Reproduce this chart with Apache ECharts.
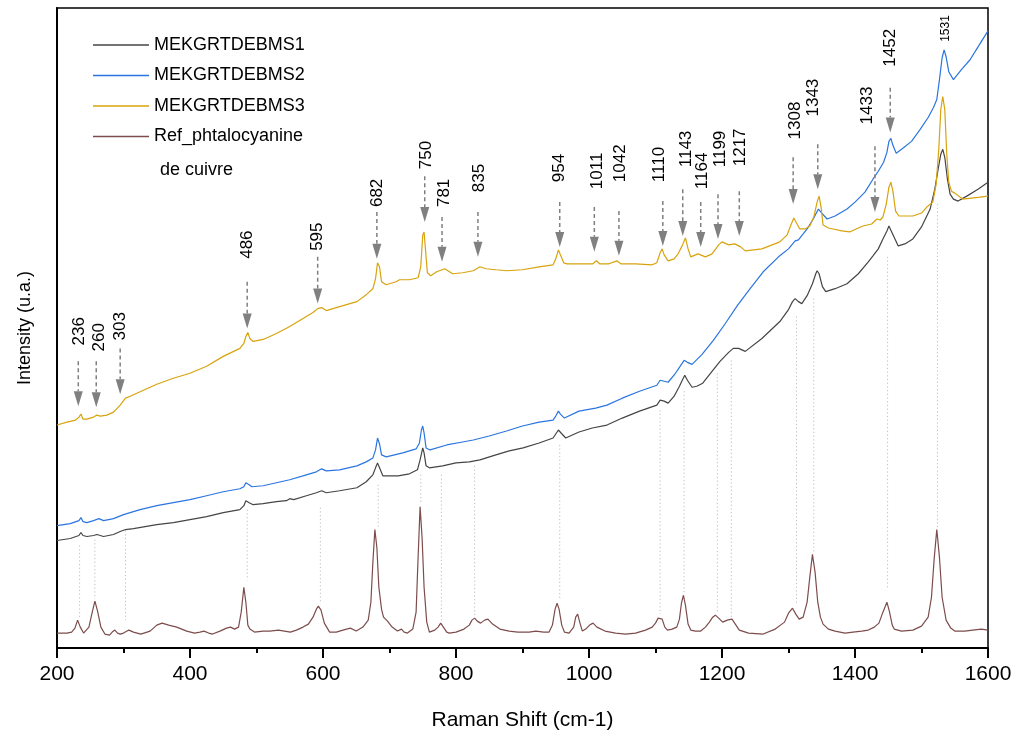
<!DOCTYPE html>
<html>
<head>
<meta charset="utf-8">
<script src="https://cdn.jsdelivr.net/npm/echarts@6/dist/echarts.min.js"></script>
<style>html,body{margin:0;padding:0;background:#fff}#c{width:1018px;height:736px}</style>
</head>
<body>
<div id="c"></div>
<script>
// Raman shift (cm-1) vs intensity (arbitrary units)
const ms1 = [[200,108],[220,110],[233,113],[236,116],[239,113],[245,112],[255,113],[260,114],[270,112],[285,114],[295,117],[303,119],[315,120],[350,124],[375,126],[400,129],[425,132],[450,136],[475,139],[481,143],[484,148],[486,150],[489,146],[495,144],[510,145],[530,147],[545,148],[550,150],[553,152],[556,149],[575,153],[590,156],[598,158],[605,156],[625,158],[651,161],[665,167],[675,174],[679,181],[682,186],[685,181],[690,173],[702,173],[713,173],[730,175],[742,179],[746,189],[750,201],[752,196],[755,183],[760,181],[780,183],[800,186],[820,187],[836,189],[860,194],[880,198],[901,201],[925,206],[946,211],[950,215],[954,219],[958,216],[965,211],[985,217],[1005,221],[1027,224],[1050,231],[1076,238],[1102,244],[1107,249],[1110,251],[1113,248],[1119,246],[1128,253],[1136,263],[1141,270],[1144,274],[1148,269],[1155,262],[1162,263],[1171,266],[1185,278],[1197,288],[1210,297],[1217,301],[1225,301],[1235,298],[1260,311],[1287,328],[1300,340],[1306,348],[1310,351],[1315,348],[1320,346],[1328,354],[1336,366],[1341,376],[1343,379],[1346,376],[1351,363],[1356,358],[1370,361],[1388,366],[1405,376],[1420,388],[1427,394],[1435,401],[1442,411],[1448,419],[1451,424],[1454,423],[1458,414],[1465,404],[1475,406],[1487,411],[1500,423],[1513,441],[1520,461],[1525,481],[1529,496],[1532,501],[1535,493],[1539,471],[1543,456],[1548,451],[1555,449],[1568,454],[1585,461],[1600,468]];

const ms2 = [[200,123],[220,125],[233,128],[236,131],[239,127],[245,126],[255,128],[263,130],[270,128],[285,130],[300,134],[325,139],[350,143],[375,146],[400,149],[425,153],[450,157],[475,160],[481,162],[484,166],[486,168],[489,164],[493,162],[510,163],[530,166],[550,169],[575,174],[590,177],[598,180],[605,178],[625,179],[651,183],[665,187],[675,191],[679,199],[682,211],[685,205],[688,194],[695,192],[720,196],[740,200],[745,206],[748,219],[750,223],[752,216],[755,201],[761,199],[786,204],[810,207],[826,209],[850,213],[876,218],[900,223],[925,227],[946,229],[950,233],[954,238],[957,235],[963,231],[985,238],[1010,241],[1027,244],[1050,251],[1076,258],[1102,264],[1107,269],[1110,271],[1113,268],[1119,267],[1130,276],[1138,284],[1143,289],[1148,287],[1155,285],[1170,295],[1187,309],[1205,326],[1223,344],[1240,359],[1262,378],[1285,393],[1300,401],[1310,409],[1315,410],[1328,421],[1338,432],[1345,441],[1350,437],[1358,431],[1370,434],[1388,441],[1400,448],[1415,458],[1427,471],[1435,479],[1443,488],[1448,498],[1451,509],[1454,512],[1457,505],[1462,497],[1470,501],[1485,509],[1498,521],[1510,533],[1518,543],[1523,551],[1527,571],[1531,593],[1534,601],[1537,594],[1541,579],[1548,571],[1560,581],[1573,591],[1585,604],[1600,620]];

const ms3 = [[200,224],[215,227],[228,229],[233,232],[236,235],[239,230],[245,230],[255,232],[260,234],[265,233],[275,234],[285,237],[295,244],[303,251],[310,253],[330,259],[350,265],[375,271],[400,276],[425,283],[450,293],[475,301],[481,306],[484,313],[487,317],[490,311],[495,308],[510,310],[530,316],[550,323],[570,331],[585,337],[592,341],[598,342],[605,339],[625,343],[651,348],[665,355],[675,361],[679,371],[682,387],[685,383],[688,368],[695,365],[710,368],[715,370],[730,370],[743,372],[747,383],[750,415],[752,418],[754,401],[757,377],[762,374],[771,378],[783,381],[795,376],[810,377],[826,379],[836,383],[845,381],[860,380],[876,379],[900,380],[925,383],[946,385],[950,391],[954,400],[957,395],[962,387],[967,386],[985,386],[1006,386],[1011,389],[1016,386],[1030,386],[1042,389],[1048,386],[1070,386],[1095,385],[1102,387],[1107,397],[1110,401],[1113,395],[1119,389],[1128,391],[1134,396],[1140,404],[1145,412],[1149,401],[1153,393],[1164,396],[1175,393],[1185,396],[1195,405],[1200,408],[1210,405],[1219,406],[1228,403],[1235,399],[1260,401],[1287,408],[1298,415],[1303,424],[1308,432],[1312,427],[1317,421],[1325,421],[1332,424],[1338,433],[1343,448],[1346,454],[1349,443],[1352,425],[1360,422],[1367,421],[1380,419],[1392,418],[1405,422],[1412,424],[1425,426],[1433,431],[1438,430],[1442,433],[1447,446],[1451,463],[1454,468],[1457,459],[1461,439],[1466,434],[1487,434],[1500,437],[1508,443],[1517,448],[1522,466],[1526,501],[1529,541],[1532,554],[1535,541],[1538,496],[1541,468],[1545,459],[1550,457],[1562,451],[1575,452],[1588,453],[1600,454]];

const refPc = [[200,15],[215,15],[222,16],[227,20],[231,28],[235,21],[240,15],[248,21],[253,36],[257,47],[261,37],[266,21],[272,14],[279,13],[283,16],[287,18],[291,15],[295,14],[300,15],[308,18],[315,16],[326,14],[340,17],[350,23],[358,25],[368,23],[380,21],[395,17],[407,15],[415,16],[421,17],[428,15],[434,14],[445,17],[455,20],[461,21],[467,19],[473,21],[477,36],[481,61],[484,46],[487,23],[490,19],[497,16],[510,17],[520,17],[533,18],[542,17],[551,16],[560,18],[570,21],[578,24],[585,31],[590,39],[593,42],[597,38],[602,25],[610,16],[620,16],[630,18],[641,20],[650,17],[660,21],[668,28],[672,46],[675,86],[678,119],[681,101],[684,61],[688,39],[691,31],[697,27],[704,21],[712,17],[718,19],[722,16],[727,15],[735,19],[740,36],[743,91],[746,142],[749,111],[752,61],[756,26],[760,16],[768,18],[773,21],[777,25],[781,21],[786,16],[790,15],[800,16],[812,19],[820,23],[824,28],[828,30],[832,27],[837,25],[843,28],[848,29],[855,24],[866,19],[880,17],[893,16],[910,16],[920,17],[932,16],[940,16],[945,23],[949,39],[952,45],[955,39],[959,23],[963,16],[970,15],[977,21],[980,31],[983,34],[986,26],[990,17],[995,19],[1001,23],[1006,25],[1012,21],[1024,17],[1040,15],[1055,14],[1070,15],[1085,18],[1095,21],[1100,25],[1104,30],[1107,32],[1110,29],[1114,21],[1118,18],[1125,19],[1132,21],[1136,29],[1139,45],[1142,53],[1145,43],[1149,24],[1153,18],[1160,17],[1168,17],[1175,21],[1181,26],[1186,31],[1190,33],[1195,30],[1201,26],[1208,28],[1215,29],[1220,24],[1226,18],[1240,15],[1262,14],[1280,19],[1290,24],[1294,26],[1300,35],[1306,40],[1311,34],[1316,29],[1322,31],[1328,46],[1332,71],[1336,94],[1340,76],[1344,46],[1348,31],[1352,24],[1360,19],[1370,17],[1385,15],[1397,16],[1410,17],[1420,18],[1429,21],[1436,25],[1442,36],[1448,46],[1452,36],[1456,23],[1459,19],[1470,17],[1487,18],[1500,22],[1510,31],[1515,51],[1519,89],[1523,119],[1527,91],[1531,51],[1537,28],[1544,20],[1550,17],[1565,17],[1577,18],[1590,19],[1600,18]];

const seriesNames = ['MEKGRTDEBMS1', 'MEKGRTDEBMS2', 'MEKGRTDEBMS3', 'Ref_phtalocyanine'];
const xTicks = [200, 400, 600, 800, 1000, 1200, 1400, 1600];

// peak annotations: [label, label x, arrow x, label base y, arrow top y, arrow tip y] (data units)
const peakMarks = [
  ['236', 233, 232, 304, 288, 243],
  ['260', 263, 259, 298, 288, 242],
  ['303', 295, 295, 309, 301, 255],
  ['486', 486, 486, 391, 368, 321],
  ['595', 592, 592, 399, 393, 346],
  ['682', 681, 681, 443, 438, 391],
  ['750', 756, 753, 481, 474, 428],
  ['781', 783, 779, 443, 433, 388],
  ['835', 835, 833, 458, 438, 393],
  ['954', 956, 956, 468, 448, 403],
  ['1011', 1012, 1008, 461, 443, 398],
  ['1042', 1047, 1045, 468, 439, 394],
  ['1110', 1105, 1111, 468, 449, 404],
  ['1143', 1146, 1141, 483, 461, 414],
  ['1164', 1171, 1168, 461, 448, 403],
  ['1199', 1198, 1194, 483, 456, 411],
  ['1217', 1227, 1226, 484, 459, 414],
  ['1308', 1310, 1307, 511, 493, 446],
  ['1343', 1337, 1344, 534, 506, 461],
  ['1433', 1418, 1430, 526, 504, 438],
  ['1452', 1453, 1453, 584, 563, 518],
  ['1531', 1537, null, 609, null, null]
];
// vertical dotted guide lines: [x, top y, bottom y]
const guideLines = [[234,103,31],[257,109,49],[303,118,28],[486,139,68],[596,141,44],[683,164,121],[747,174,146],[778,174,28],[828,183,33],[956,204,48],[1107,239,34],[1143,258,54],[1193,276,36],[1214,289,31],[1312,333,43],[1338,351,96],[1449,393,59],[1524,446,121]];

const FONT = '"Liberation Sans", Arial, Helvetica, sans-serif';
const colors = ['#454545', '#2a75e0', '#d8a30c', '#7d4c4c'];

const chart = echarts.init(document.getElementById('c'), null, {renderer: 'canvas'});

function lineSeries(name, data, color) {
  return {
    name: name, type: 'line', data: data, showSymbol: false, symbol: 'none',
    lineStyle: {color: color, width: 1.2}, itemStyle: {color: color},
    animation: false, silent: true, z: 3
  };
}

const option = {
  backgroundColor: '#fff',
  animation: false,
  grid: {left: 57, right: 30, top: 8, bottom: 85, show: true, borderColor: '#000', borderWidth: 1.5, backgroundColor: 'transparent'},
  legend: {
    orient: 'vertical', left: 88, top: 31, itemWidth: 56, itemHeight: 1.5, itemGap: 12.5,
    icon: 'rect',
    data: seriesNames,
    textStyle: {fontFamily: FONT, fontSize: 18, color: '#000', lineHeight: 18},
    selectedMode: false
  },
  xAxis: {
    type: 'value', min: 200, max: 1600, interval: 200,
    name: 'Raman Shift (cm-1)', nameLocation: 'middle', nameGap: 62,
    nameTextStyle: {fontFamily: FONT, fontSize: 21, color: '#000'},
    axisLine: {show: true, lineStyle: {color: '#000', width: 2}},
    axisTick: {show: true, inside: false, length: 10, lineStyle: {color: '#000', width: 2}},
    minorTick: {show: true, splitNumber: 2, length: 5, lineStyle: {color: '#000', width: 2}},
    axisLabel: {fontFamily: FONT, fontSize: 21, color: '#000', margin: 16,
      formatter: function (v) { return xTicks.indexOf(v) >= 0 ? String(v) : ''; }},
    splitLine: {show: false}
  },
  yAxis: {
    type: 'value', min: 0, max: 643,
    name: 'Intensity (u.a.)', nameLocation: 'middle', nameGap: 23,
    nameTextStyle: {fontFamily: FONT, fontSize: 18, color: '#000'},
    axisLine: {show: true, lineStyle: {color: '#000', width: 2}},
    axisTick: {show: false}, axisLabel: {show: false}, splitLine: {show: false}
  },
  graphic: [{
    type: 'text', left: 160, top: 161,
    style: {text: 'de cuivre', font: '18px ' + FONT, fill: '#000'}
  }],
  series: [
    {
      type: 'custom', name: 'guides', silent: true, z: 1,
      data: guideLines, encode: {x: 0, y: 1},
      renderItem: function (params, api) {
        const p1 = api.coord([api.value(0), api.value(1)]);
        const p2 = api.coord([api.value(0), api.value(2)]);
        return {type: 'line', shape: {x1: p1[0], y1: p1[1], x2: p2[0], y2: p2[1]},
          style: {stroke: '#bdbdbd', lineWidth: 1, lineDash: [1.2, 2.5]}};
      }
    },
    lineSeries(seriesNames[0], ms1, colors[0]),
    lineSeries(seriesNames[1], ms2, colors[1]),
    lineSeries(seriesNames[2], ms3, colors[2]),
    lineSeries(seriesNames[3], refPc, colors[3]),
    {
      type: 'custom', name: 'peaks', silent: true, z: 5,
      data: peakMarks.map(function (d) { return [d[1], d[3], d[2], d[4], d[5], d[0]]; }),
      encode: {x: 0, y: 1},
      renderItem: function (params, api) {
        const d = peakMarks[params.dataIndex];
        const small = d[2] === null;
        const base = api.coord([d[1], d[3]]);
        const children = [{
          type: 'text', x: base[0], y: base[1], rotation: Math.PI / 2,
          style: {text: d[0], font: (small ? '12px ' : '17px ') + FONT, fill: '#000',
            align: 'left', verticalAlign: 'middle', textAlign: 'left', textVerticalAlign: 'middle'}
        }];
        if (!small) {
          const top = api.coord([d[2], d[4]]);
          const tip = api.coord([d[2], d[5]]);
          const headLen = 15, headW = 4.5;
          children.push({type: 'line', shape: {x1: top[0], y1: top[1], x2: tip[0], y2: tip[1] - headLen},
            style: {stroke: '#808080', lineWidth: 1.5, lineDash: [4, 3]}});
          children.push({type: 'polygon', shape: {points: [[tip[0] - headW, tip[1] - headLen], [tip[0] + headW, tip[1] - headLen], [tip[0], tip[1]]]},
            style: {fill: '#808080'}});
        }
        return {type: 'group', children: children};
      }
    }
  ]
};
chart.setOption(option);
</script>
</body>
</html>
